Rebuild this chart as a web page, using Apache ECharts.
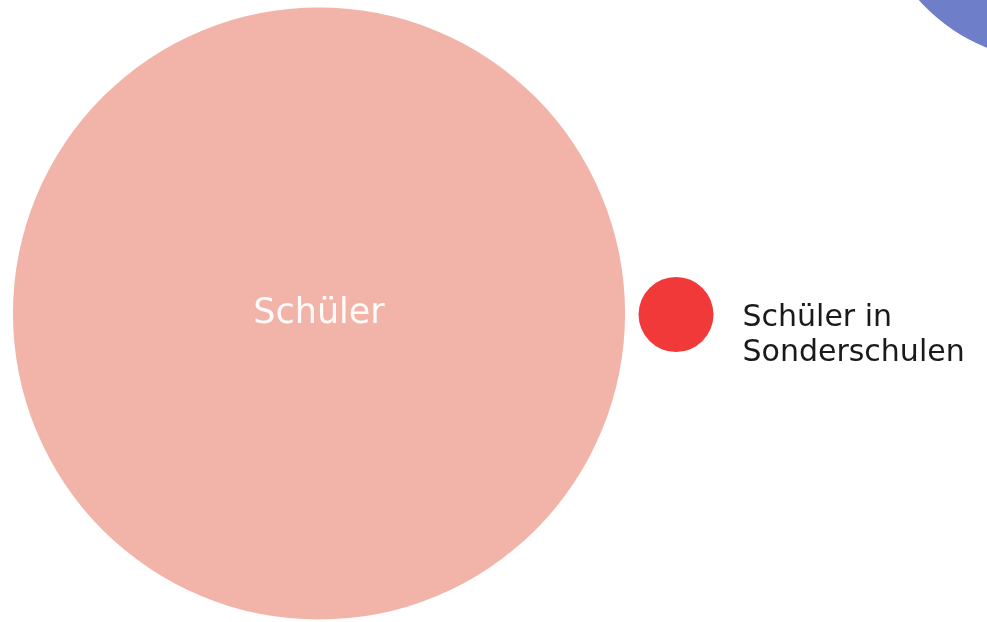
<!DOCTYPE html>
<html>
<head>
<meta charset="utf-8">
<script src="https://cdn.jsdelivr.net/npm/echarts@6/dist/echarts.min.js"></script>
<style>
  html, body { margin: 0; padding: 0; background: #fff; }
  #chart { width: 987px; height: 622px; }
</style>
</head>
<body>
<div id="chart"></div>
<script>
// bubble names and values
var names = ["Schüler", "Schüler in\nSonderschulen", "Lehrer"];
var values = [8400000, 126000, 2840000];
var colors = ["#F2B4A8", "#F2393A", "#6F7EC8"];

// layout of the packed bubbles (chart coordinates)
var layoutX = [319, 676, 1052];
var layoutY = [313.5, 314.5, -118];

var sizeScale = 0.2112; // diameter per sqrt(value)

var data = names.map(function (n, i) {
  return {
    name: n,
    value: [layoutX[i], layoutY[i], values[i]],
    itemStyle: { color: colors[i], opacity: 1 }
  };
});
// inner label for the big bubble, side label for the small one
data[0].label = {
  show: true,
  position: "inside",
  formatter: "{b}",
  color: "rgba(255,255,255,0.95)",
  fontFamily: "DejaVu Sans",
  fontSize: 35,
  fontWeight: "normal"
};
data[1].label = {
  show: true,
  position: "right",
  distance: 29,
  offset: [0, 21],
  formatter: "{b}",
  align: "left",
  color: "#1a1a1a",
  fontFamily: "DejaVu Sans",
  fontSize: 30,
  fontWeight: "normal",
  lineHeight: 35
};

var myChart = echarts.init(document.getElementById("chart"));
myChart.setOption({
  animation: false,
  grid: { left: 0, right: 0, top: 0, bottom: 0 },
  xAxis: { type: "value", min: 0, max: 987, show: false },
  yAxis: { type: "value", min: 0, max: 622, inverse: true, show: false },
  series: [
    {
      type: "scatter",
      clip: false,
      symbol: "circle",
      symbolSize: function (v) {
        return sizeScale * Math.sqrt(v[2]);
      },
      label: { show: false },
      emphasis: { disabled: true },
      data: data
    }
  ]
});
</script>
</body>
</html>
